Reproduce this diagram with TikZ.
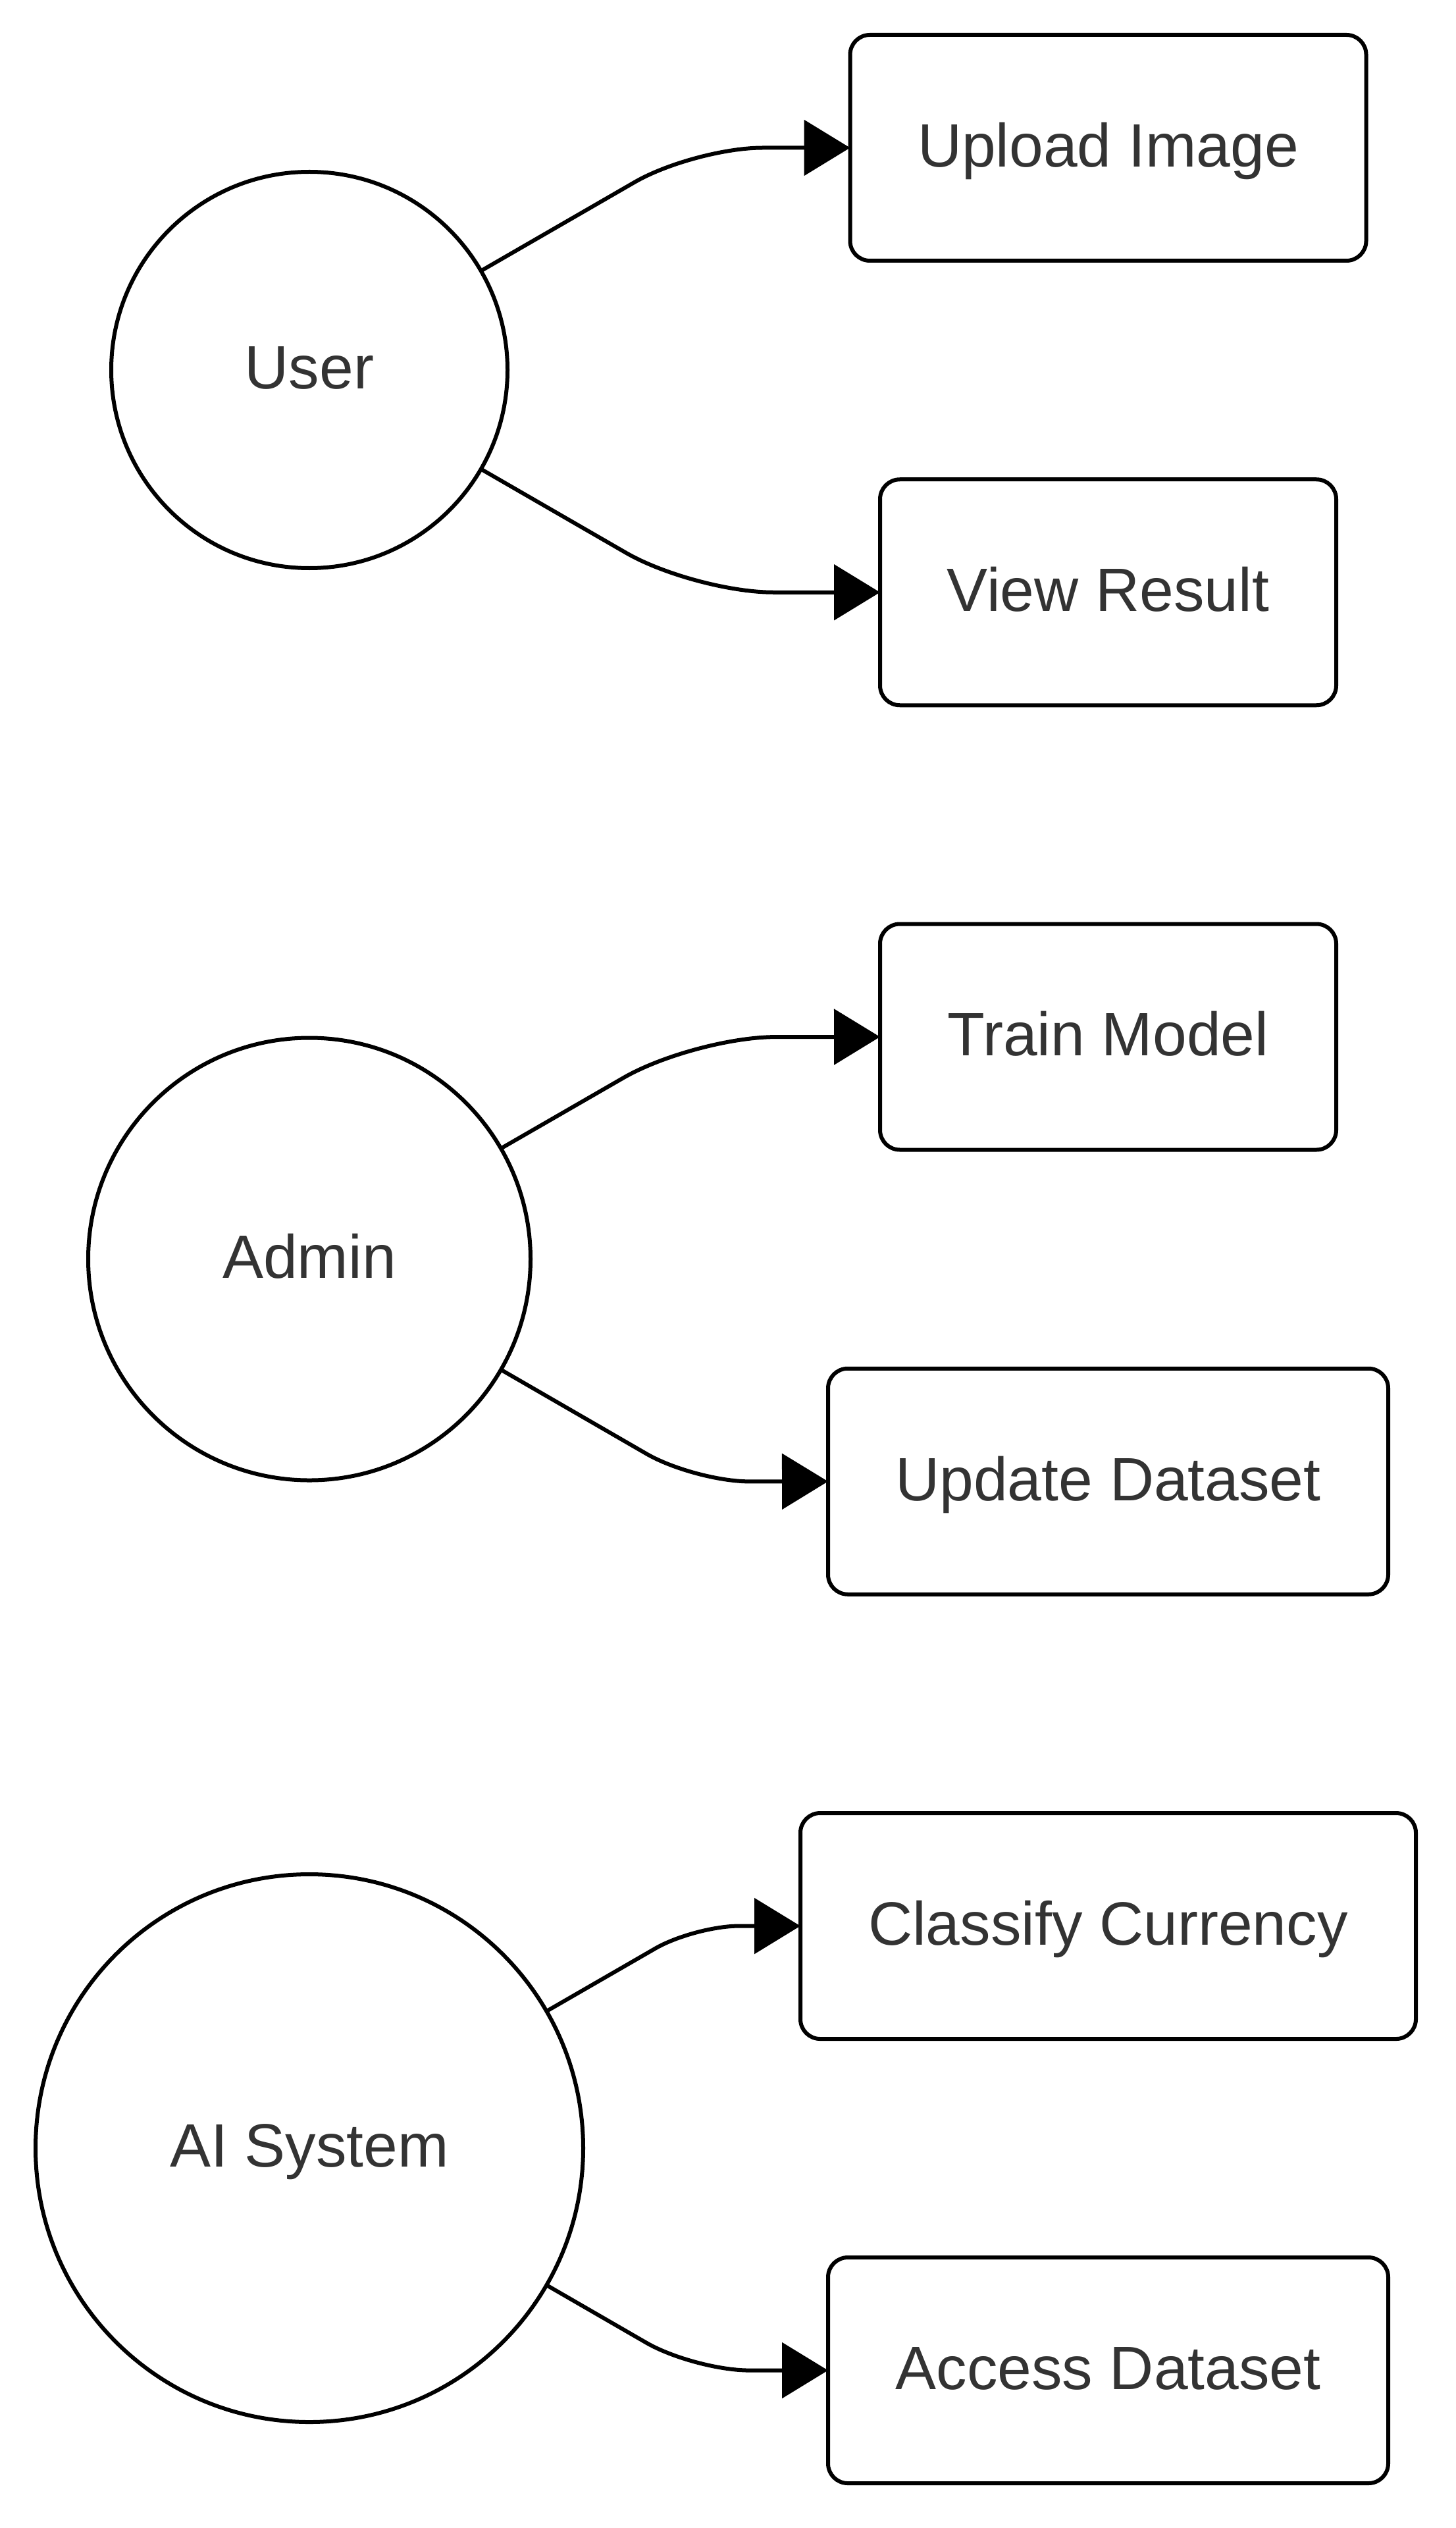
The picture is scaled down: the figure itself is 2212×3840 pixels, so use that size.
\documentclass[tikz,border=0pt]{standalone}
\usepackage{fontspec}
\setmainfont{Liberation Sans}
\usetikzlibrary{arrows.meta}
\definecolor{txt}{HTML}{333333}
\begin{document}
\begin{tikzpicture}[x=0.25pt,y=-0.25pt,
  lbl/.style={font=\fontsize{23.25pt}{28pt}\selectfont, text=txt, text height=19.3pt, text depth=4.9pt, line width=1.5pt, draw=black, inner sep=0pt, outer sep=0pt},
  actor/.style={lbl, circle},
  usecase/.style={lbl, rectangle, rounded corners=7.5pt, minimum height=85.75pt},
  edge/.style={line width=1.5pt, draw=black, -{Triangle[length=17.5pt,width=21pt]}}]
\useasboundingbox (0,0) rectangle (2212,3840);
% actors
\node[actor, minimum size=150.5pt] (user) at (470,562) {User};
\node[actor, minimum size=168pt] (admin) at (470,1912.5) {Admin};
\node[actor, minimum size=208pt] (ai) at (470,3263) {AI System};
% use cases
\node[usecase, minimum width=196pt] (upload) at (1683.5,224.5) {Upload Image};
\node[usecase, minimum width=173.25pt] (view) at (1683.5,899.75) {View Result};
\node[usecase, minimum width=173.25pt] (train) at (1683.5,1575) {Train Model};
\node[usecase, minimum width=212.75pt] (update) at (1683.5,2250.25) {Update Dataset};
\node[usecase, minimum width=233.75pt] (classify) at (1683.5,2925.5) {Classify Currency};
\node[usecase, minimum width=212.75pt] (access) at (1683.5,3600.5) {Access Dataset};
% corners
\coordinate (k1) at (intersection of user.center--user.30 and 0,224.5--1,224.5);
\coordinate (k2) at (intersection of user.center--user.-30 and 0,899.75--1,899.75);
\coordinate (k3) at (intersection of admin.center--admin.30 and 0,1575--1,1575);
\coordinate (k4) at (intersection of admin.center--admin.-30 and 0,2250.25--1,2250.25);
\coordinate (k5) at (intersection of ai.center--ai.30 and 0,2925.5--1,2925.5);
\coordinate (k6) at (intersection of ai.center--ai.-30 and 0,3600.5--1,3600.5);
% connectors
\draw[edge, rounded corners=26pt] (user.30) -- (k1) -- (upload.west);
\draw[edge, rounded corners=30pt] (user.-30) -- (k2) -- (view.west);
\draw[edge, rounded corners=31pt] (admin.30) -- (k3) -- (train.west);
\draw[edge, rounded corners=21pt] (admin.-30) -- (k4) -- (update.west);
\draw[edge, rounded corners=17pt] (ai.30) -- (k5) -- (classify.west);
\draw[edge, rounded corners=21pt] (ai.-30) -- (k6) -- (access.west);
\end{tikzpicture}
\end{document}
